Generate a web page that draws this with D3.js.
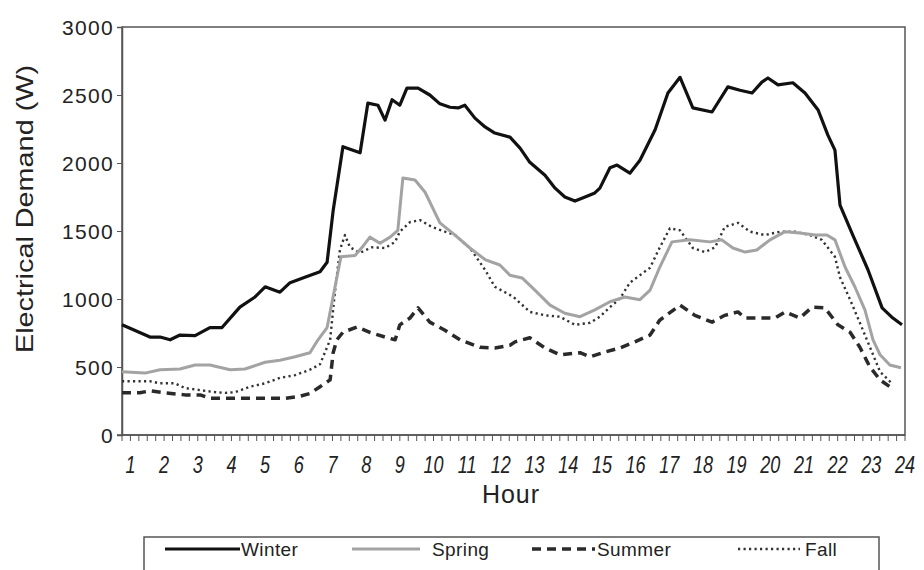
<!DOCTYPE html>
<html>
<head>
<meta charset="utf-8">
<script src="https://cdn.jsdelivr.net/npm/d3@7"></script>
<style>
  body { margin: 0; background: #fff; }
  text { font-family: "Liberation Sans", Arial, sans-serif; fill: #222; }
</style>
</head>
<body>
<svg id="chart" width="924" height="570"></svg>
<script>
// [hour, watts]
var winter = [[0.75,810],[1.58,720],[1.88,720],[2.18,700],[2.47,735],[2.92,730],[3.36,790],[3.72,790],[4.25,940],[4.70,1015],[5.00,1090],[5.44,1050],[5.74,1120],[6.18,1160],[6.63,1200],[6.84,1270],[7.02,1650],[7.31,2120],[7.82,2075],[8.05,2440],[8.35,2425],[8.56,2315],[8.77,2465],[9.00,2425],[9.21,2550],[9.54,2550],[9.89,2500],[10.19,2435],[10.49,2410],[10.73,2405],[10.93,2425],[11.23,2330],[11.53,2265],[11.82,2220],[12.27,2190],[12.57,2110],[12.86,2005],[13.31,1910],[13.61,1815],[13.90,1750],[14.20,1720],[14.50,1750],[14.79,1780],[14.94,1815],[15.24,1965],[15.45,1985],[15.83,1925],[16.13,2020],[16.58,2245],[16.96,2515],[17.32,2630],[17.70,2405],[18.27,2375],[18.74,2560],[19.10,2535],[19.46,2515],[19.75,2595],[19.93,2625],[20.23,2575],[20.67,2590],[21.03,2515],[21.42,2390],[21.71,2205],[21.92,2095],[22.07,1690],[22.45,1470],[22.90,1215],[23.32,935],[23.64,860],[23.91,810]];

var spring = [[0.75,465],[1.43,455],[1.88,480],[2.47,485],[2.92,515],[3.36,515],[3.96,480],[4.40,485],[5.00,535],[5.44,550],[5.89,575],[6.33,605],[6.57,700],[6.84,790],[7.25,1310],[7.67,1320],[7.88,1380],[8.11,1455],[8.41,1410],[8.71,1455],[8.94,1505],[9.09,1890],[9.45,1875],[9.75,1785],[10.19,1560],[10.64,1470],[11.08,1375],[11.53,1290],[11.97,1250],[12.27,1175],[12.63,1155],[13.01,1065],[13.46,955],[13.90,895],[14.35,870],[14.79,920],[15.24,980],[15.68,1015],[16.13,995],[16.43,1065],[16.72,1235],[17.08,1420],[17.61,1435],[18.21,1420],[18.56,1435],[18.89,1375],[19.25,1345],[19.60,1360],[19.99,1435],[20.44,1495],[20.88,1485],[21.33,1470],[21.68,1470],[21.92,1435],[22.22,1235],[22.51,1090],[22.81,920],[23.05,700],[23.26,590],[23.55,515],[23.88,495]];

var summer = [[0.75,310],[1.28,310],[1.58,325],[2.03,310],[2.62,295],[3.07,295],[3.36,270],[4.25,270],[5.59,270],[6.04,285],[6.33,305],[6.63,355],[6.93,405],[7.02,605],[7.13,700],[7.31,755],[7.73,795],[8.11,755],[8.56,720],[8.86,700],[9.00,810],[9.30,860],[9.54,935],[9.89,830],[10.34,770],[10.79,700],[11.38,645],[11.82,640],[12.27,660],[12.42,685],[12.86,715],[13.31,640],[13.75,590],[14.35,605],[14.65,575],[15.09,610],[15.54,640],[15.98,685],[16.43,735],[16.72,845],[17.32,955],[17.76,880],[18.27,830],[18.65,880],[19.04,905],[19.25,860],[19.69,860],[20.14,860],[20.44,905],[20.88,860],[21.24,940],[21.62,935],[22.01,810],[22.37,755],[22.66,645],[22.96,500],[23.26,405],[23.61,345]];

var fall = [[0.75,395],[1.58,395],[1.88,380],[2.32,380],[2.62,345],[3.07,330],[3.51,315],[3.81,310],[4.11,315],[4.55,355],[5.00,380],[5.44,420],[5.89,440],[6.33,480],[6.63,520],[6.93,700],[7.07,1045],[7.22,1360],[7.37,1470],[7.52,1380],[7.82,1340],[8.17,1380],[8.56,1375],[8.86,1420],[9.00,1495],[9.30,1565],[9.60,1580],[9.95,1530],[10.34,1495],[10.64,1470],[11.08,1375],[11.53,1215],[11.82,1090],[12.27,1030],[12.42,1005],[12.86,905],[13.31,880],[13.75,870],[14.20,810],[14.65,825],[14.94,870],[15.24,940],[15.54,1005],[15.83,1120],[16.13,1175],[16.43,1230],[16.72,1380],[17.02,1520],[17.32,1505],[17.70,1375],[18.06,1345],[18.36,1380],[18.65,1530],[19.04,1560],[19.40,1495],[19.84,1470],[20.29,1495],[20.73,1495],[21.18,1470],[21.53,1435],[21.92,1310],[22.07,1160],[22.37,995],[22.66,825],[22.96,645],[23.26,465],[23.61,380]];

var seriesNames = ['Winter', 'Spring', 'Summer', 'Fall'];
var hourTicks = d3.range(1, 25);
var demandTicks = [0, 500, 1000, 1500, 2000, 2500, 3000];

var svg = d3.select('#chart'),
	pad = {top: 27, right: 19, bottom: 135, left: 122},
	W = 924, H = 570,
	x = d3.scaleLinear().domain([0.75, 24]).range([pad.left, W - pad.right]),
	y = d3.scaleLinear().domain([0, 3000]).range([H - pad.bottom, pad.top]);

var styles = {
	Winter: {data: winter, color: '#111', width: 3.2, dash: null},
	Spring: {data: spring, color: '#a3a3a3', width: 3, dash: null},
	Summer: {data: summer, color: '#2a2a2a', width: 3.5, dash: '9,6'},
	Fall:   {data: fall,   color: '#333', width: 2.4, dash: '2.2,3.3'}
};

// frame
svg.append('rect')
	.attr('x', x(0.75)).attr('y', y(3000))
	.attr('width', x(24) - x(0.75)).attr('height', y(0) - y(3000))
	.attr('fill', 'none').attr('stroke', '#555').attr('stroke-width', 1.5);

// y axis
var yAxis = d3.axisLeft(y).tickValues(demandTicks).tickFormat(d3.format('d')).tickSize(5).tickPadding(3);
var gy = svg.append('g').attr('transform', 'translate(' + pad.left + ',0)').call(yAxis);
gy.select('.domain').attr('stroke', '#555').attr('stroke-width', 1.5);
gy.selectAll('.tick line').attr('stroke', '#555');
gy.selectAll('.tick text')
	.attr('font-size', 21).attr('letter-spacing', 1.3).attr('dy', '0.36em')
	.style('font-family', '"Liberation Sans", Arial, sans-serif').attr('fill', '#222');

// x axis: minor ticks every quarter hour
var gx = svg.append('g').attr('transform', 'translate(0,' + y(0) + ')');
gx.append('line').attr('x1', x(0.75) - 5).attr('x2', x(24))
	.attr('stroke', '#555').attr('stroke-width', 1.5);
gx.selectAll('line.minor').data(d3.range(0.75, 24.01, 0.25)).enter()
	.append('line').attr('class', 'minor')
	.attr('x1', function (d) {return x(d);}).attr('x2', function (d) {return x(d);})
	.attr('y1', 0).attr('y2', 6)
	.attr('stroke', '#555').attr('stroke-width', 1);
gx.selectAll('text.hour').data(hourTicks).enter()
	.append('text').attr('class', 'hour')
	.attr('transform', function (d) {return 'translate(' + x(d) + ',38) scale(0.82,1.12)';})
	.attr('text-anchor', 'middle')
	.attr('font-size', 22).attr('font-style', 'italic')
	.text(function (d) {return d;});

// axis titles
svg.append('text')
	.attr('transform', 'translate(33,209) rotate(-90)')
	.attr('text-anchor', 'middle')
	.attr('font-size', 24)
	.attr('textLength', 288).attr('lengthAdjust', 'spacingAndGlyphs')
	.text('Electrical Demand (W)');
svg.append('text')
	.attr('x', 511).attr('y', 503)
	.attr('text-anchor', 'middle')
	.attr('font-size', 25).attr('letter-spacing', 1)
	.text('Hour');

// series
var line = d3.line()
	.x(function (d) {return x(d[0]);})
	.y(function (d) {return y(d[1]);});

['Fall', 'Summer', 'Spring', 'Winter'].forEach(function (name) {
	var s = styles[name];
	svg.append('path')
		.datum(s.data)
		.attr('d', line)
		.attr('fill', 'none')
		.attr('stroke', s.color)
		.attr('stroke-width', s.width)
		.attr('stroke-dasharray', s.dash)
		.attr('stroke-linejoin', 'round');
});

// legend
var legend = svg.append('g');
legend.append('rect')
	.attr('x', 144).attr('y', 537).attr('width', 735).attr('height', 45)
	.attr('fill', 'none').attr('stroke', '#555').attr('stroke-width', 1.5);

var legendPos = {Winter: [165, 240, 241], Spring: [352, 420, 432], Summer: [532, 595, 597], Fall: [738, 800, 805]};
seriesNames.forEach(function (name) {
	var s = styles[name], p = legendPos[name];
	legend.append('line')
		.attr('x1', p[0]).attr('x2', p[1]).attr('y1', 549).attr('y2', 549)
		.attr('stroke', s.color).attr('stroke-width', s.width)
		.attr('stroke-dasharray', s.dash);
	legend.append('text')
		.attr('x', p[2]).attr('y', 556)
		.attr('font-size', 19).attr('letter-spacing', 0.4)
		.text(name);
});
</script>
</body>
</html>
